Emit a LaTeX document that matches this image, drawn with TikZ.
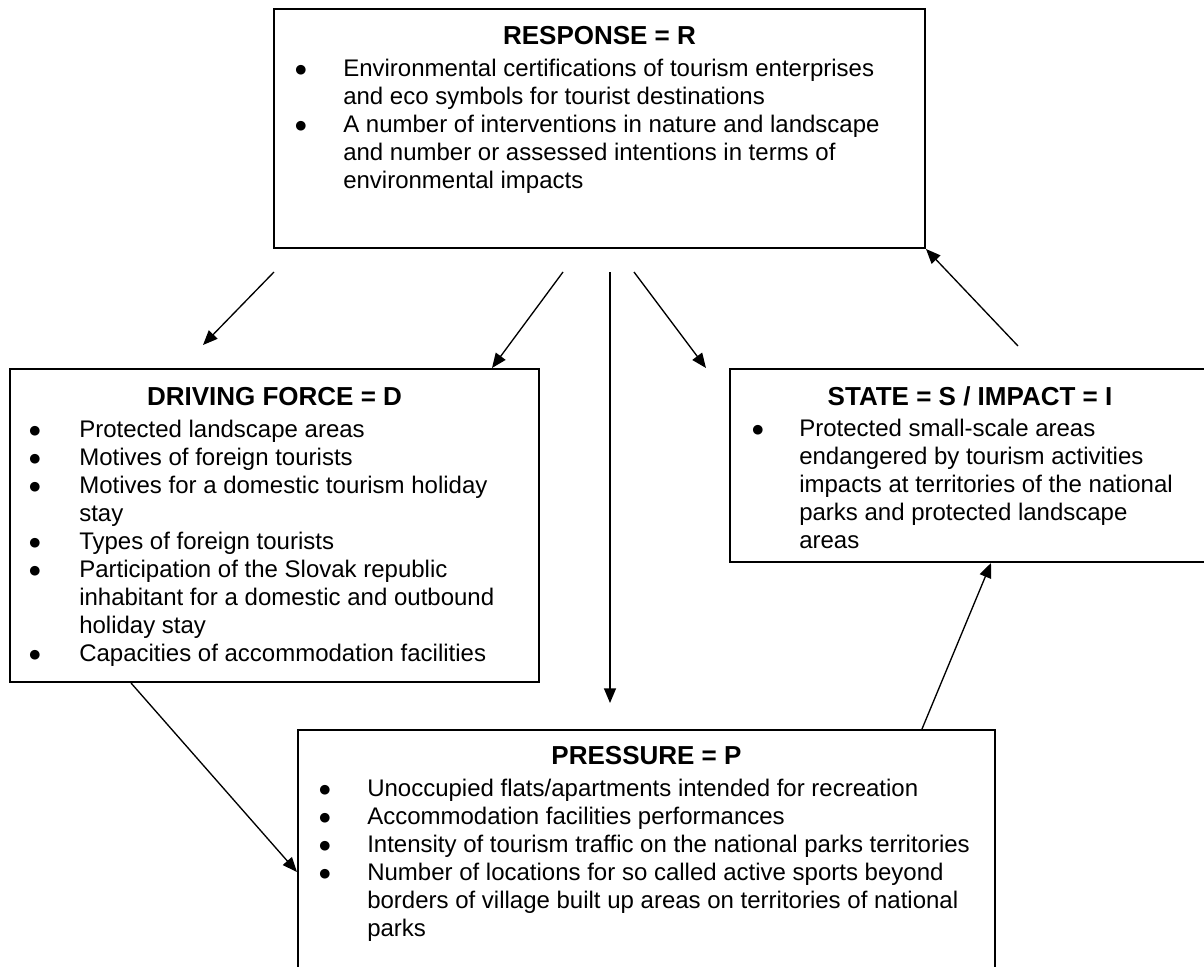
\documentclass[tikz,border=0pt]{standalone}
\usepackage{fontspec}
\setmainfont{Liberation Sans}
\newfontfamily\bltfont{DejaVu Sans}
\usetikzlibrary{arrows.meta}
\newcommand{\blt}{\raisebox{1.6pt}{\bltfont\fontsize{9.5pt}{9.5pt}\selectfont ●}}
\tikzset{
  box/.style={draw, line width=1.5pt, rectangle, inner sep=0pt},
  ttl/.style={anchor=base, inner sep=0pt, font=\fontsize{19.5pt}{22pt}\selectfont\bfseries},
  lst/.style={anchor=base west, inner sep=0pt, font=\fontsize{18pt}{21pt}\selectfont},
  arr/.style={line width=1pt, -{Triangle[length=11pt,width=9pt]}}
}
\begin{document}
\begin{tikzpicture}[x=0.75pt,y=-0.75pt]
\useasboundingbox (0,0) rectangle (1204,967);
\clip (0,0) rectangle (1204,967);
\fill[white] (0,0) rectangle (1204,967);
% boxes
\node[box, minimum width=488.25pt, minimum height=179.25pt] (R) at (599.5,128.5) {};
\node[box, minimum width=396.75pt, minimum height=234.75pt] (D) at (274.5,525.5) {};
\node[box, minimum width=360pt, minimum height=144.75pt] (S) at (970,465.5) {};
\node[box, minimum width=522.75pt, minimum height=195pt] (P) at (646.5,860) {};
% titles
\node[ttl] (Rt) at (599.5,44) {RESPONSE = R};
\node[ttl] (Dt) at (274.5,405) {DRIVING FORCE = D};
\node[ttl] (St) at (970,405) {STATE = S / IMPACT = I};
\node[ttl] (Pt) at (646.5,764) {PRESSURE = P};
% lists
\node[lst] (Rl) at (295,76) {\begin{tabular}[t]{@{}p{36pt}@{}l@{}}
\blt & Environmental certifications of tourism enterprises\\
 & and eco symbols for tourist destinations\\
\blt & A number of interventions in nature and landscape\\
 & and number or assessed intentions in terms of\\
 & environmental impacts
\end{tabular}};
\node[lst] (Dl) at (29,437) {\begin{tabular}[t]{@{}p{37.5pt}@{}l@{}}
\blt & Protected landscape areas\\
\blt & Motives of foreign tourists\\
\blt & Motives for a domestic tourism holiday\\
 & stay\\
\blt & Types of foreign tourists\\
\blt & Participation of the Slovak republic\\
 & inhabitant for a domestic and outbound\\
 & holiday stay\\
\blt & Capacities of accommodation facilities
\end{tabular}};
\node[lst] (Sl) at (752,436) {\begin{tabular}[t]{@{}p{35.25pt}@{}l@{}}
\blt & Protected small-scale areas\\
 & endangered by tourism activities\\
 & impacts at territories of the national\\
 & parks and protected landscape\\
 & areas
\end{tabular}};
\node[lst] (Pl) at (319,796) {\begin{tabular}[t]{@{}p{36pt}@{}l@{}}
\blt & Unoccupied flats/apartments intended for recreation\\
\blt & Accommodation facilities performances\\
\blt & Intensity of tourism traffic on the national parks territories\\
\blt & Number of locations for so called active sports beyond\\
 & borders of village built up areas on territories of national\\
 & parks
\end{tabular}};
% free ends of connectors
\coordinate (a1s) at (274,272);
\coordinate (a1e) at (203,345);
\coordinate (a2s) at (563,272);
\coordinate (x492) at (492,0);
\coordinate (a3s) at (610,272);
\coordinate (a3e) at (610,703);
\coordinate (a4s) at (634,272);
\coordinate (a4e) at (706,368);
\coordinate (a5s) at (1018,346);
\coordinate (x922) at (922,0);
\coordinate (x991) at (991,0);
\coordinate (x131) at (131,0);
\coordinate (y872) at (0,872);
% connectors
\draw[arr] (a1s) -- (a1e);
\draw[arr] (a2s) -- (x492 |- D.north);
\draw[arr] (a3s) -- (a3e);
\draw[arr] (a4s) -- (a4e);
\draw[arr] (a5s) -- (R.south east);
\draw[arr] (x922 |- P.north) -- (x991 |- S.south);
\draw[arr] (x131 |- D.south) -- (P.west |- y872);
\end{tikzpicture}
\end{document}
